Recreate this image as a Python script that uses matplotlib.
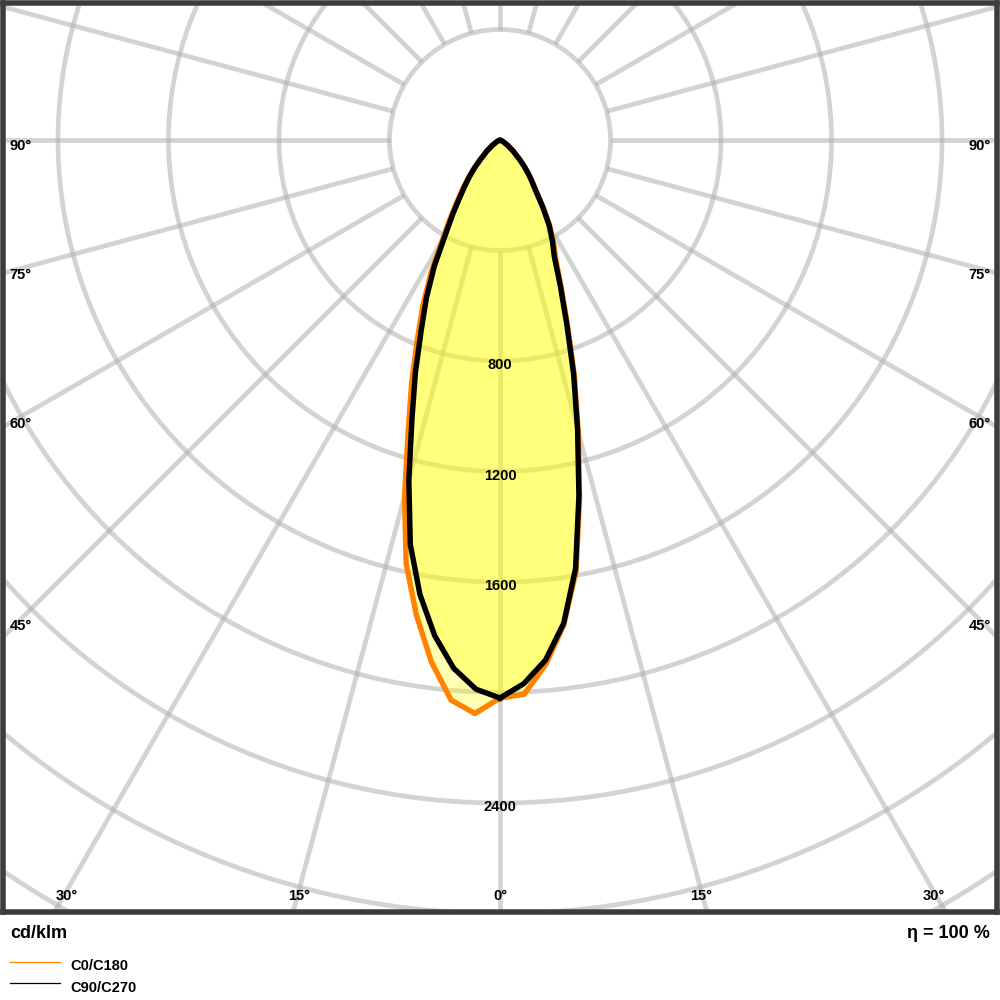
import numpy as np
import matplotlib
matplotlib.use('Agg')
import matplotlib.pyplot as plt
from matplotlib.lines import Line2D

# --- data: luminous intensity (cd/klm) against gamma angle ---
gamma = [0, 2.5, 5, 7.5, 10, 12.5, 15, 17.5, 20, 22.5, 25, 27.5, 30,
         32.5, 35, 37.5, 40, 42.5, 45, 50, 55, 60, 65, 70, 75, 80, 85, 90]
c0 = [2020, 2008, 1905, 1770, 1585, 1330, 1095, 895, 715, 580, 478, 420, 362,
      295, 232, 195, 162, 132, 104, 63, 34, 16, 7, 3, 1, 0, 0, 0]
c180 = [2020, 2078, 2035, 1905, 1745, 1570, 1335, 1105, 935, 782, 660, 540, 415,
        335, 268, 220, 178, 140, 106, 64, 35, 17, 7, 3, 1, 0, 0, 0]
c90 = [2020, 1970, 1890, 1765, 1575, 1320, 1085, 885, 705, 570, 465, 410, 355,
       288, 228, 190, 160, 130, 102, 62, 34, 16, 7, 3, 1, 0, 0, 0]
c270 = [2020, 1990, 1920, 1810, 1670, 1500, 1275, 1060, 895, 745, 630, 515, 395,
        318, 255, 208, 170, 135, 102, 62, 34, 16, 7, 3, 1, 0, 0, 0]

ring_values = [400, 800, 1200, 1600, 2000, 2400, 2800, 3200, 3600]
ring_labels = [800, 1200, 1600, 2400]
spoke_angles = list(range(0, 360, 15))
side_labels = [90, 75, 60, 45]
bottom_labels = [0, 15, 30]

ORANGE = '#ff8200'
GRID = '#b0b0b0'
FONT = 'Liberation Sans'

# --- geometry of the picture (pixels) ---
W, H = 1000, 1000
k = 110.5 / 400.0          # px per cd/klm
cx, cy = 500.0, 140.0      # pole position
frame_lw = 5.5
x0, y0, x1, y1 = 2.75, 2.75, 997.25, 912.25


def px2data(xp, yp):
    return (xp - cx) / k, (cy - yp) / k


fig = plt.figure(figsize=(W / 100, H / 100), dpi=100)
ax = fig.add_axes([x0 / W, 1 - y1 / H, (x1 - x0) / W, (y1 - y0) / H])
ax.set_xlim((x0 - cx) / k, (x1 - cx) / k)
ax.set_ylim(-(y1 - cy) / k, (cy - y0) / k)
ax.set_xticks([])
ax.set_yticks([])
for sp in ax.spines.values():
    sp.set_linewidth(frame_lw * 72 / 100)
    sp.set_color('#3c3c3c')
    sp.set_zorder(10)

# grid rings
t = np.linspace(0, 2 * np.pi, 1441)
for r in ring_values:
    ax.plot(r * np.cos(t), r * np.sin(t), color=GRID, alpha=0.55, lw=3.4,
            zorder=1, solid_capstyle='butt')

# spokes every 15 deg, starting at the first ring
for a in spoke_angles:
    ar = np.radians(a)
    rr = np.array([ring_values[0], 6000])
    ax.plot(rr * np.sin(ar), -rr * np.cos(ar), color=GRID, alpha=0.55, lw=3.4,
            zorder=1, solid_capstyle='butt')


def outline(right, left):
    g = np.radians(gamma)
    right = np.asarray(right, float)
    left = np.asarray(left, float)
    xs = np.concatenate([right * np.sin(g), (-left * np.sin(g))[::-1]])
    ys = np.concatenate([-right * np.cos(g), (-left * np.cos(g))[::-1]])
    return xs, ys


xo, yo = outline(c0, c180)
xb, yb = outline(c90, c270)

ax.fill(xo, yo, color='#ffff00', alpha=0.3, lw=0, zorder=2)
ax.fill(xb, yb, color='#ffff00', alpha=0.3, lw=0, zorder=2)
ax.plot(xo, yo, color=ORANGE, lw=3.9, zorder=3, solid_joinstyle='round')
ax.plot(xb, yb, color='black', lw=3.9, zorder=4, solid_joinstyle='round')

txt = dict(fontsize=10.5, fontweight='bold', family=FONT, color='black', zorder=6)

# intensity labels along the 0 deg axis
for v in ring_labels:
    ax.text(0, -v - 8.4 / k, str(v), ha='center', va='baseline', **txt)

# angle labels on the side edges
for a in side_labels:
    ar = np.radians(a)
    dy = 480.0 * np.cos(ar) / np.sin(ar)
    xl, yl = px2data(9.3, cy + dy + 10.5)
    ax.text(xl, yl, f'{a}°', ha='left', va='baseline', **txt)
    xr, _ = px2data(990.7, 0)
    ax.text(xr, yl, f'{a}°', ha='right', va='baseline', **txt)

# angle labels on the bottom edge
for a in bottom_labels:
    dx = 751.0 * np.tan(np.radians(a))
    sides = [1] if a == 0 else [-1, 1]
    for s in sides:
        xl, yl = px2data(cx + s * dx, 900.5)
        ax.text(xl, yl, f'{a}°', ha='center', va='baseline', **txt)

# texts under the frame
ftxt = dict(fontweight='bold', family=FONT, color='black')
fig.text(10 / W, 1 - 937.5 / H, 'cd/klm', ha='left', va='baseline', fontsize=13, **ftxt)
fig.text(990 / W, 1 - 937.5 / H, 'η = 100 %', ha='right', va='baseline', fontsize=13, **ftxt)

# legend
legend_entries = [('C0/C180', ORANGE), ('C90/C270', 'black')]
for i, (lab, col) in enumerate(legend_entries):
    yl = 962 + 21 * i
    fig.add_artist(Line2D([10 / W, 60 / W], [1 - yl / H] * 2, color=col, lw=0.9,
                          transform=fig.transFigure))
    fig.text(70 / W, 1 - (yl + 8.5) / H, lab, ha='left', va='baseline', fontsize=10.5, **ftxt)

fig.savefig('out.png', dpi=100)
